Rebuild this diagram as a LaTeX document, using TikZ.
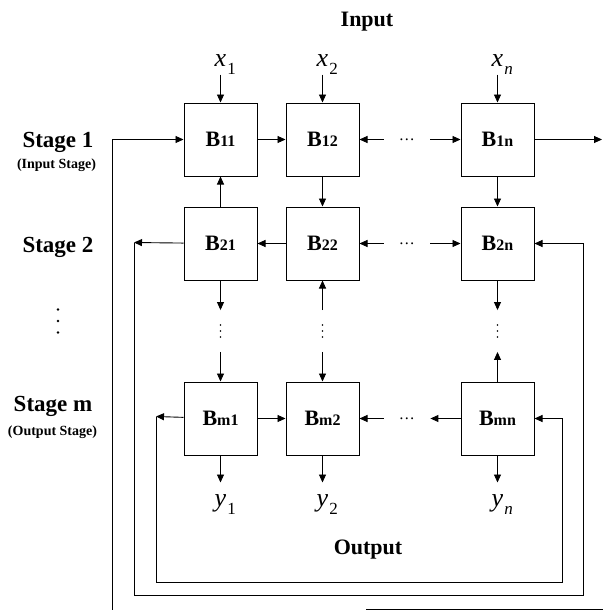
\documentclass[tikz,border=0pt]{standalone}
\usepackage{fontspec}
\setmainfont{Liberation Serif}
\usetikzlibrary{positioning,arrows.meta,calc}

\newcommand{\blocklbl}[1]{B{\fontsize{16}{16}\selectfont #1}}
\newcommand{\iolbl}[2]{\textit{#1}\rlap{\kern1pt\raisebox{-8pt}{\fontsize{17}{17}\selectfont #2}}}

\begin{document}
\begin{tikzpicture}[
  x=1pt, y=-1pt,
  node distance=30pt and 28pt,
  >={Triangle[length=8pt,width=7pt]},
  line width=0.9pt,
  cell/.style={
    draw, line width=1pt, minimum width=73pt, minimum height=73pt,
    inner sep=0pt, font=\bfseries\fontsize{22}{22}\selectfont
  },
  hdots/.style={inner xsep=15pt, inner ysep=0pt, font=\fontsize{16}{16}\selectfont},
  vdot/.style={inner sep=0pt, minimum width=2pt, minimum height=41pt},
  iolabel/.style={inner sep=0pt, font=\fontsize{26}{26}\selectfont},
  stagelbl/.style={anchor=base, inner sep=0pt, font=\bfseries\fontsize{23}{23}\selectfont},
  stagenote/.style={anchor=base, inner sep=0pt, font=\bfseries\fontsize{14}{14}\selectfont},
  heading/.style={anchor=base, inner sep=0pt, font=\bfseries\fontsize{22}{22}\selectfont}
]
  \useasboundingbox (0,0) rectangle (603,610);

  % Stage 1
  \node[cell] (B11) at (220.5,139.5) {\blocklbl{11}};
  \node[cell, right=of B11] (B12) {\blocklbl{12}};
  \node[cell, right=101pt of B12] (B1n) {\blocklbl{1n}};
  \node[hdots, right=24pt of B12] (d1) {\dots};

  % Stage 2
  \node[cell, below=of B11] (B21) {\blocklbl{21}};
  \node[cell, below=of B12] (B22) {\blocklbl{22}};
  \node[cell, below=of B1n] (B2n) {\blocklbl{2n}};
  \node[hdots, right=24pt of B22] (d2) {\dots};

  % Stage m
  \node[cell, below=101pt of B21] (Bm1) {\blocklbl{m1}};
  \node[cell, below=101pt of B22] (Bm2) {\blocklbl{m2}};
  \node[cell, below=101pt of B2n] (Bmn) {\blocklbl{mn}};
  \node[hdots, right=24pt of Bm2] (dm) {\dots};

  % dots between stage 2 and stage m
  \node[vdot] (v1) at ($(B21.south)!0.5!(Bm1.north)$) {};
  \node[vdot] (v2) at ($(B22.south)!0.5!(Bm2.north)$) {};
  \node[vdot] (vn) at ($(B2n.south)!0.5!(Bmn.north)$) {};
  \foreach \c in {v1,v2,vn}
    \foreach \k in {-6,0,6}
      \fill ($(\c)+(0,\k)$) circle (0.9pt);

  % inputs and outputs
  \node[iolabel, above=28pt of B11] (x1) {\iolbl{x}{1}};
  \node[iolabel, above=28pt of B12] (x2) {\iolbl{x}{2}};
  \node[iolabel, above=28pt of B1n] (xn) {\iolbl{x}{\textit{n}}};
  \node[iolabel, below=39pt of Bm1] (y1) {\iolbl{y}{1}};
  \node[iolabel, below=39pt of Bm2] (y2) {\iolbl{y}{2}};
  \node[iolabel, below=39pt of Bmn] (yn) {\iolbl{y}{\textit{n}}};

  % labels
  \node[heading] (inp) at (367,27) {Input};
  \node[heading] (outp) at (368,554) {Output};
  \node[stagelbl] (st1) at (58,147) {Stage 1};
  \node[stagenote] (st1n) at (56.5,168) {(Input Stage)};
  \node[stagelbl] (st2) at (58,252) {Stage 2};
  \coordinate (stdots) at (58,321);
  \foreach \k in {-11.5,0,11.5}
    \fill ($(stdots)+(0,\k)$) circle (1.4pt);
  \node[stagelbl] (stm) at (53,411) {Stage m};
  \node[stagenote] (stmn) at (52.5,435) {(Output Stage)};

  % loop corners
  \coordinate (in1) at (112,610);
  \coordinate (o1) at (602,139.5);
  \coordinate (l2) at (134,242.5);
  \coordinate (r2) at (583,595);
  \coordinate (lm) at (156,416.5);
  \coordinate (rm) at (562,582);
  \coordinate (cutA) at (366,609);
  \coordinate (cutB) at (603,609);

  % stage 1 arrows
  \draw[->] (x1) -- (B11);
  \draw[->] (x2) -- (B12);
  \draw[->] (xn) -- (B1n);
  \draw[->] (in1) |- (B11);
  \draw[->] (B11) -- (B12);
  \draw[->] (d1) -- (B12);
  \draw[->] (d1) -- (B1n);
  \draw[->] (B1n) -- (o1);
  \draw (cutA) -- (cutB);

  % stage 1 <-> stage 2
  \draw[->] (B21) -- (B11);
  \draw[->] (B12) -- (B22);
  \draw[->] (B1n) -- (B2n);

  % stage 2 arrows
  \draw[->] (B22) -- (B21);
  \draw[->] (d2) -- (B22);
  \draw[->] (d2) -- (B2n);
  \draw[->] (B21) -- (l2);
  \draw[->] (l2) |- (r2) |- (B2n);

  % stage 2 <-> stage m
  \draw[->] (B21) -- (v1);
  \draw[->] (v1) -- (Bm1);
  \draw[->] (v2) -- (B22);
  \draw[->] (v2) -- (Bm2);
  \draw[->] (B2n) -- (vn);
  \draw[->] (Bmn) -- (vn);

  % stage m arrows
  \draw[->] (Bm1) -- (Bm2);
  \draw[->] (dm) -- (Bm2);
  \draw[->] (Bmn) -- (dm);
  \draw[->] (Bm1) -- (lm);
  \draw[->] (lm) |- (rm) |- (Bmn);
  \draw[->, shorten >=12pt] (Bm1) -- (y1);
  \draw[->, shorten >=12pt] (Bm2) -- (y2);
  \draw[->, shorten >=12pt] (Bmn) -- (yn);

\end{tikzpicture}
\end{document}
